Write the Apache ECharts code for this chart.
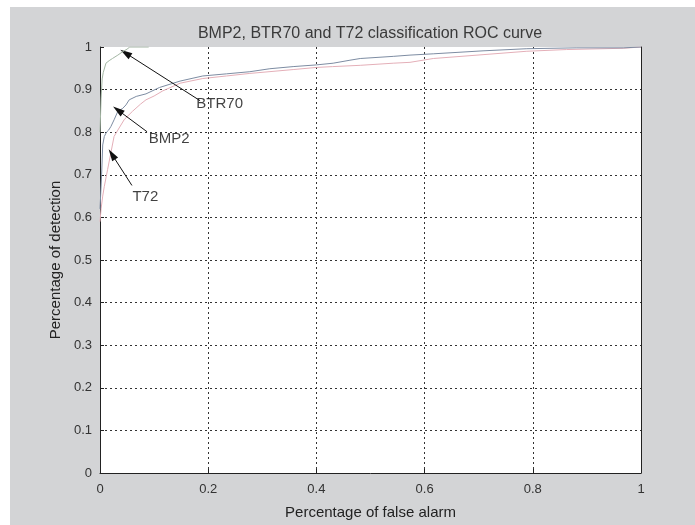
<!DOCTYPE html>
<html>
<head>
<meta charset="utf-8">
<script src="https://cdn.jsdelivr.net/npm/echarts@6/dist/echarts.min.js"></script>
<style>
html,body{margin:0;padding:0;background:#ffffff;}
#chart{position:absolute;left:10px;top:7px;width:685px;height:518px;}
</style>
</head>
<body>
<div id="chart"></div>
<script>
// ---- data ----
const titleText = "BMP2, BTR70 and T72 classification ROC curve";
const xAxisName = "Percentage of false alarm";
const yAxisName = "Percentage of detection";

const btr70X = [0, 0.002, 0.004, 0.006, 0.011, 0.017, 0.023, 0.033, 0.042, 0.05, 0.055, 0.09];
const btr70Y = [0.80, 0.88, 0.925, 0.94, 0.962, 0.968, 0.973, 0.981, 0.989, 0.995, 1, 1];

const bmp2X = [0, 0.003, 0.005, 0.008, 0.012, 0.016, 0.02, 0.026, 0.033, 0.042, 0.048, 0.054, 0.067, 0.085, 0.11, 0.148, 0.19, 0.234, 0.277, 0.314, 0.357, 0.40, 0.431, 0.462, 0.481, 0.542, 0.573, 0.616, 0.708, 0.789, 0.88, 0.967, 1];
const bmp2Y = [0.62, 0.70, 0.77, 0.79, 0.80, 0.805, 0.813, 0.829, 0.849, 0.856, 0.864, 0.876, 0.884, 0.890, 0.905, 0.92, 0.932, 0.937, 0.942, 0.949, 0.954, 0.958, 0.962, 0.969, 0.973, 0.978, 0.981, 0.984, 0.991, 0.996, 0.998, 0.998, 1];

const t72X = [0, 0.002, 0.005, 0.008, 0.014, 0.02, 0.026, 0.033, 0.045, 0.06, 0.075, 0.085, 0.1, 0.116, 0.148, 0.19, 0.234, 0.277, 0.357, 0.40, 0.43, 0.481, 0.542, 0.573, 0.616, 0.708, 0.789, 0.862, 0.967, 1];
const t72Y = [0.59, 0.62, 0.65, 0.673, 0.712, 0.751, 0.79, 0.805, 0.83, 0.849, 0.866, 0.876, 0.885, 0.897, 0.915, 0.926, 0.932, 0.938, 0.947, 0.952, 0.954, 0.957, 0.962, 0.964, 0.973, 0.982, 0.99, 0.994, 0.997, 1];

// annotations: label text, label anchor, arrow tail, arrow head (data coords)
const annoNames = ["BTR70", "BMP2", "T72"];
const annoLabelXY = [[0.178, 0.866], [0.09, 0.785], [0.06, 0.649]];
const annoTailXY = [[0.185, 0.874], [0.087, 0.801], [0.059, 0.675]];
const annoHeadXY = [[0.047, 0.986], [0.033, 0.852], [0.022, 0.748]];

const xTicks = [0, 0.2, 0.4, 0.6, 0.8, 1];
const yTicks = [0, 0.1, 0.2, 0.3, 0.4, 0.5, 0.6, 0.7, 0.8, 0.9, 1];

// ---- build ----
function pairs(xs, ys){ return xs.map((x,i)=>[x, ys[i]]); }
function arrow(i){
  return {
    silent: true, symbol: ['none','triangle'], symbolSize: [7, 12], symbolKeepAspect: true,
    label: {show:false},
    itemStyle: {color: '#111'},
    lineStyle: {color:'#111', width:1, type:'solid'},
    emphasis: {disabled:true},
    data: [[{coord: annoTailXY[i]}, {coord: annoHeadXY[i]}]]
  };
}
const fontFam = '"Liberation Sans", Arial, sans-serif';
const chart = echarts.init(document.getElementById('chart'), null, {renderer:'canvas'});
chart.setOption({
  backgroundColor: '#d3d4d6',
  animation: false,
  title: {
    text: titleText, left: 355, top: 14, textAlign: 'center',
    textStyle: {fontFamily: fontFam, fontSize: 16, fontWeight: 'normal', color: '#3a3a3a'}
  },
  grid: {left: 90, right: 54, top: 40, bottom: 51, show: true, backgroundColor: '#ffffff', borderWidth: 0},
  xAxis: {
    type: 'value', min: 0, max: 1, interval: 0.2,
    name: xAxisName, nameLocation: 'middle', nameGap: 32,
    nameTextStyle: {fontFamily: fontFam, fontSize: 15, color: '#222'},
    axisLine: {show: true, onZero: false, lineStyle: {color: '#222', width: 1}},
    axisTick: {show: true, inside: true, length: 4, lineStyle: {color: '#222'}},
    axisLabel: {fontFamily: fontFam, fontSize: 13, color: '#333', margin: 10,
      formatter: v => (xTicks.indexOf(v) >= 0 ? String(v) : '')},
    splitLine: {show: true, showMinLine: false, showMaxLine: false, lineStyle: {color: '#333', type: [2, 3], width: 1}}
  },
  yAxis: [{
    type: 'value', min: 0, max: 1, interval: 0.1,
    name: yAxisName, nameLocation: 'middle', nameGap: 34,
    nameTextStyle: {fontFamily: fontFam, fontSize: 15, color: '#222'},
    axisLine: {show: true, lineStyle: {color: '#222', width: 1}},
    axisTick: {show: true, inside: true, length: 4, lineStyle: {color: '#222'}},
    axisLabel: {fontFamily: fontFam, fontSize: 13, color: '#333', margin: 8,
      formatter: v => { const t = yTicks.find(y => Math.abs(y - v) < 1e-6); return t === undefined ? '' : String(t); }},
    splitLine: {show: true, showMinLine: false, showMaxLine: false, lineStyle: {color: '#333', type: [2, 3], width: 1}}
  }, {
    type: 'value', min: 0, max: 1, position: 'right',
    axisLine: {show: true, lineStyle: {color: '#222', width: 1}},
    axisTick: {show: false}, axisLabel: {show: false}, splitLine: {show: false}
  }],
  series: [
    {name: 'T72', type: 'line', data: pairs(t72X, t72Y), showSymbol: false, symbol: 'none',
     lineStyle: {color: '#e4afb8', width: 1}, markLine: arrow(2), z: 3},
    {name: 'BMP2', type: 'line', data: pairs(bmp2X, bmp2Y), showSymbol: false, symbol: 'none',
     lineStyle: {color: '#7d8ca2', width: 1}, markLine: arrow(1), z: 4},
    {name: 'BTR70', type: 'line', data: pairs(btr70X, btr70Y), showSymbol: false, symbol: 'none',
     lineStyle: {color: '#a3b6a3', width: 1}, markLine: arrow(0), z: 5},
    {name: 'labels', type: 'scatter', symbolSize: 0, silent: true, z: 6,
     data: annoNames.map((n, i) => ({value: annoLabelXY[i], name: n})),
     label: {show: true, position: 'inside', align: 'left', verticalAlign: 'middle',
       formatter: p => p.name, fontFamily: fontFam, fontSize: 15, color: '#111'}}
  ]
});
</script>
</body>
</html>
